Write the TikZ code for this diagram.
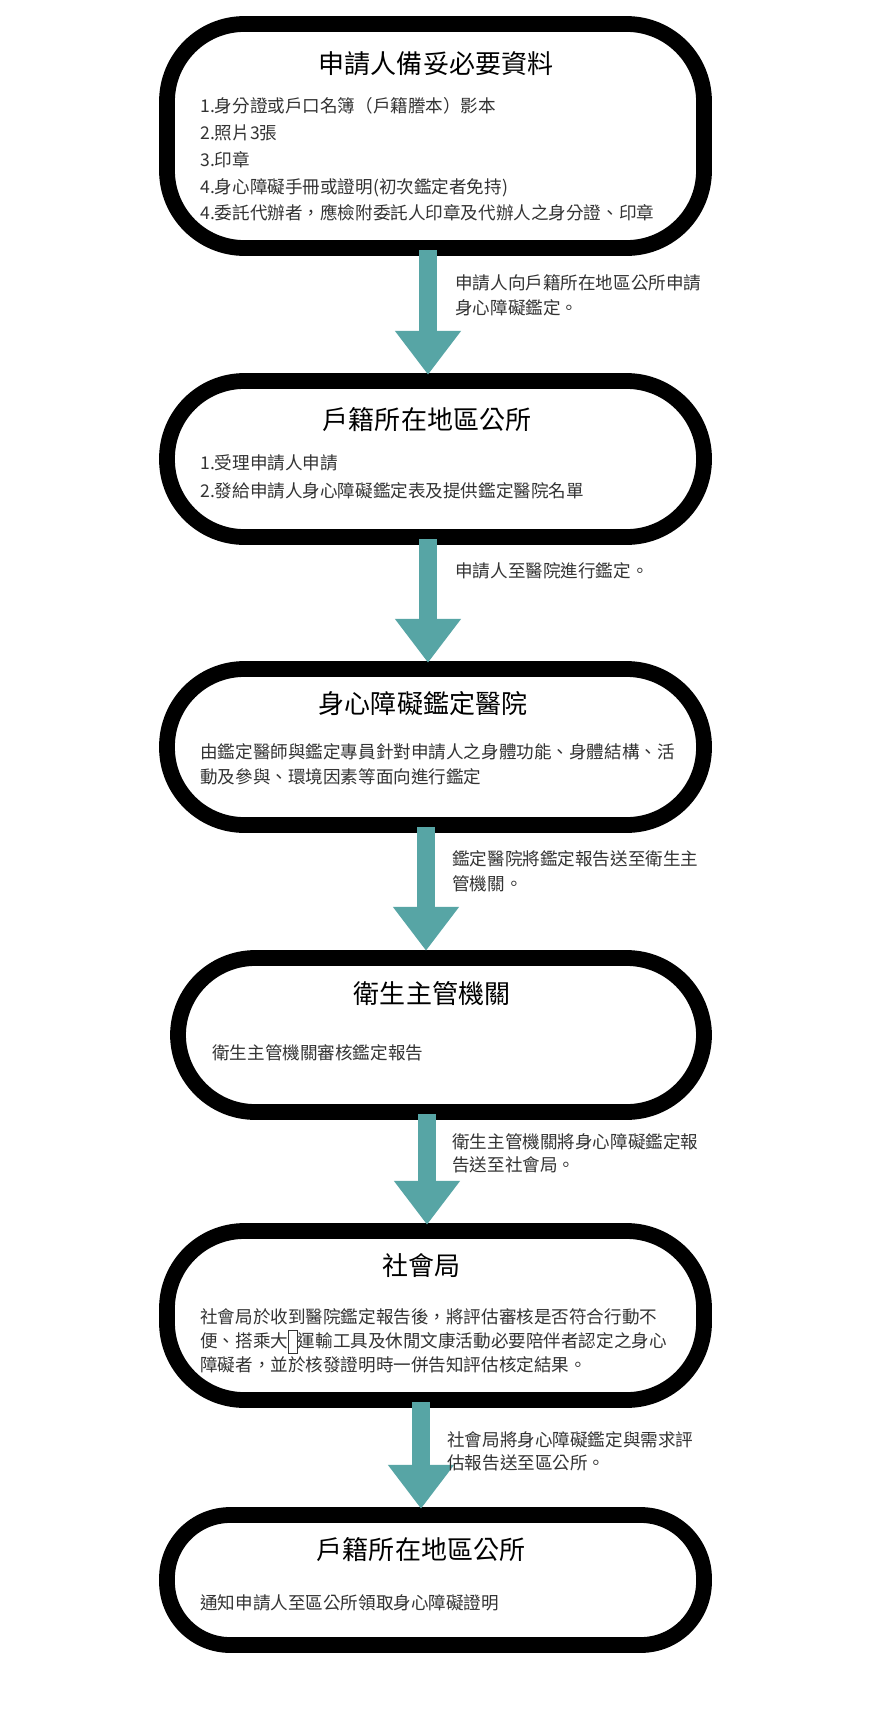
\documentclass[tikz,border=0pt]{standalone}
\usepackage{fontspec}
\setmainfont{Noto Sans CJK TC}
\usetikzlibrary{arrows.meta}
\definecolor{teal1}{HTML}{57A5A5}
\definecolor{txt}{HTML}{333333}
\begin{document}
\begin{tikzpicture}[x=0.02cm,y=-0.02cm,
  box/.style={draw=black,line width=9pt,rounded corners=44pt,fill=white},
  ttl/.style={font=\fontsize{14.8}{17}\selectfont,text=black,anchor=center,inner sep=0pt},
  body/.style={font=\fontsize{10}{14.3}\selectfont,text=txt,anchor=north west,align=left,inner sep=0pt},
  lbl/.style={font=\fontsize{10}{14.2}\selectfont,text=txt,anchor=north west,align=left,inner sep=0pt},
  arr/.style={draw=teal1,line width=10.8pt,-{Triangle[width=36pt,length=25pt]},shorten >=-1pt,shorten <=-1pt}]
\useasboundingbox (0,0) rectangle (870,1724);
\fill[white] (0,0) rectangle (870,1724);
% boxes
\draw[box] (167,24) rectangle (704,248); \coordinate (b1s) at (428,252);
\draw[box] (167,381) rectangle (704,537); \coordinate (b2n) at (428,373); \coordinate (b2s) at (428,541);
\draw[box] (167,669) rectangle (704,825); \coordinate (b3n) at (428,661); \coordinate (b3s) at (426,829);
\draw[box] (178,958) rectangle (704,1112); \coordinate (b4n) at (426,949); \coordinate (b4s) at (427,1116);
\draw[box] (167,1231) rectangle (704,1400); \coordinate (b5n) at (427,1223); \coordinate (b5s) at (421,1404);
\draw[box,rounded corners=36pt] (167,1515) rectangle (704,1645); \coordinate (b6n) at (421,1507);
% arrows
\draw[arr] (b1s) -- (b2n);
\draw[arr] (b2s) -- (b3n);
\draw[arr] (b3s) -- (b4n);
\draw[arr] (b4s) -- (b5n);
\draw[arr] (b5s) -- (b6n);
% titles
\node[ttl] (t1) at (436,64) {申請人備妥必要資料};
\node[ttl] (t2) at (427,420) {戶籍所在地區公所};
\node[ttl] (t3) at (423,704) {身心障礙鑑定醫院};
\node[ttl] (t4) at (432,994) {衛生主管機關};
\node[ttl] (t5) at (421,1266) {社會局};
\node[ttl] (t6) at (421,1550) {戶籍所在地區公所};
% bodies
\node[body,font=\fontsize{10}{15.3}\selectfont] (d1) at (200,97) {1.身分證或戶口名簿（戶籍謄本）影本\\2.照片3張\\3.印章\\4.身心障礙手冊或證明(初次鑑定者免持)\\4.委託代辦者，應檢附委託人印章及代辦人之身分證、印章};
\node[body,font=\fontsize{10}{16}\selectfont] (d2) at (200,454) {1.受理申請人申請\\2.發給申請人身心障礙鑑定表及提供鑑定醫院名單};
\node[body] (d3) at (200,743) {由鑑定醫師與鑑定專員針對申請人之身體功能、身體結構、活\\動及參與、環境因素等面向進行鑑定};
\node[body] (d4) at (212,1044) {衛生主管機關審核鑑定報告};
\node[body,font=\fontsize{10}{13.7}\selectfont] (d5) at (200,1308) {社會局於收到醫院鑑定報告後，將評估審核是否符合行動不\\便、搭乘大\framebox[0.55em]{\rule{0pt}{0.65em}}運輸工具及休閒文康活動必要陪伴者認定之身心\\障礙者，並於核發證明時一併告知評估核定結果。};
\node[body] (d6) at (200,1594) {通知申請人至區公所領取身心障礙證明};
% labels
\node[lbl] (l1) at (455,274) {申請人向戶籍所在地區公所申請\\身心障礙鑑定。};
\node[lbl] (l2) at (455,562) {申請人至醫院進行鑑定。};
\node[lbl] (l3) at (452,850) {鑑定醫院將鑑定報告送至衛生主\\管機關。};
\node[lbl,font=\fontsize{10}{13.2}\selectfont] (l4) at (452,1133) {衛生主管機關將身心障礙鑑定報\\告送至社會局。};
\node[lbl,font=\fontsize{10}{13.2}\selectfont] (l5) at (447,1431) {社會局將身心障礙鑑定與需求評\\估報告送至區公所。};
\end{tikzpicture}
\end{document}
